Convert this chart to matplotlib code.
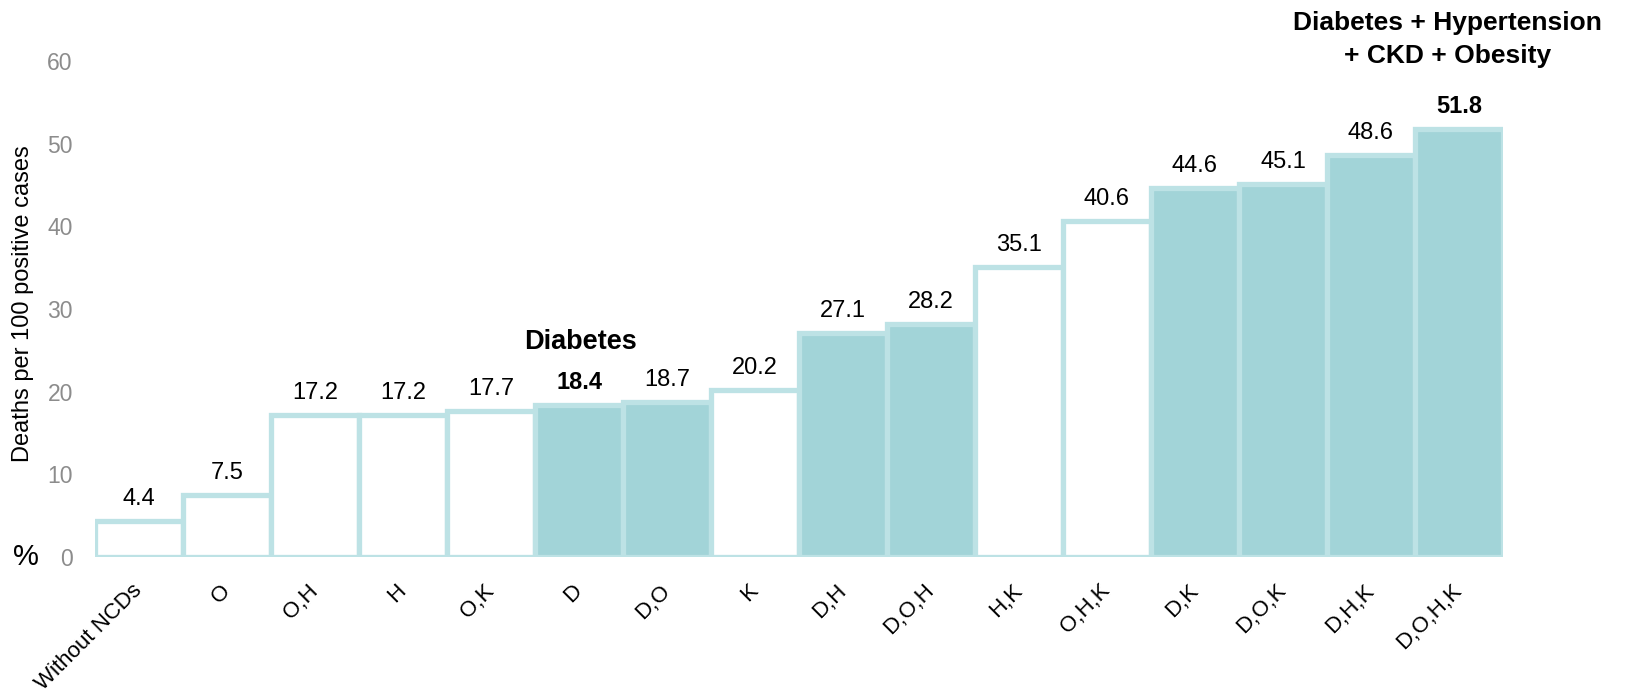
import matplotlib
matplotlib.use("Agg")
import matplotlib.pyplot as plt
import numpy as np

plt.rcParams['font.family'] = ['Liberation Sans', 'DejaVu Sans']

# Deaths per 100 positive cases by NCD combination
# D = diabetes, O = obesity, H = hypertension, K = CKD
groups = ['Without NCDs', 'O', 'O,H', 'H', 'O,K', 'D', 'D,O', 'K',
          'D,H', 'D,O,H', 'H,K', 'O,H,K', 'D,K', 'D,O,K', 'D,H,K', 'D,O,H,K']
deaths = [4.4, 7.5, 17.2, 17.2, 17.7, 18.4, 18.7, 20.2,
          27.1, 28.2, 35.1, 40.6, 44.6, 45.1, 48.6, 51.8]
y_ticks = [0, 10, 20, 30, 40, 50, 60]

fill_col = '#a2d4d8'
edge_col = '#bde2e5'

fig = plt.figure(figsize=(16.39, 6.92), dpi=100)
ax = fig.add_axes([0.058, 0.195, 0.859, 0.717])

x = np.arange(len(groups))
# bars that include diabetes are filled, the rest are outlined only
faces = [fill_col if 'D' in g.split(',') else 'white' for g in groups]
ax.bar(x, deaths, width=1.0, color=faces, edgecolor=edge_col, linewidth=3.8, zorder=2)

ax.set_xlim(-0.5, len(groups) - 0.5)
ax.set_ylim(0, 60)
ax.set_yticks(y_ticks)
ax.set_yticklabels([str(t) for t in y_ticks], fontsize=16.5, color='#8c8c8c')
ax.set_xticks(x)
ax.set_xticklabels(groups, fontsize=16, rotation=45, ha='right', va='center',
                   rotation_mode='anchor')
ax.tick_params(axis='x', length=0, pad=22)
ax.tick_params(axis='y', length=0, pad=16)
for s in ax.spines.values():
    s.set_visible(False)

ax.set_ylabel('Deaths per 100 positive cases', fontsize=17)
ax.yaxis.set_label_coords(-0.0435, 0.51)
fig.text(0.016, 0.195, '%', fontsize=21, ha='center', va='center')

# value labels above each bar
bold_idx = {groups.index('D'), groups.index('D,O,H,K')}
for i, v in enumerate(deaths):
    ax.annotate(f'{v:.1f}', (x[i], v), xytext=(0, 11.5), textcoords='offset points',
                ha='center', va='baseline', fontsize=17,
                fontweight='bold' if i in bold_idx else 'normal',
                annotation_clip=False)

d_i = groups.index('D')
ax.annotate('Diabetes', (x[d_i], deaths[d_i]), xytext=(1, 40), textcoords='offset points',
            ha='center', va='baseline', fontsize=19.5, fontweight='bold',
            annotation_clip=False)

a_i = groups.index('D,O,H,K')
ax.annotate('Diabetes + Hypertension\n+ CKD + Obesity', (x[a_i], deaths[a_i]),
            xytext=(-8, 44), textcoords='offset points', ha='center', va='bottom',
            multialignment='center', fontsize=19, fontweight='bold',
            linespacing=1.45, annotation_clip=False)

fig.savefig('out.png', dpi=100)
